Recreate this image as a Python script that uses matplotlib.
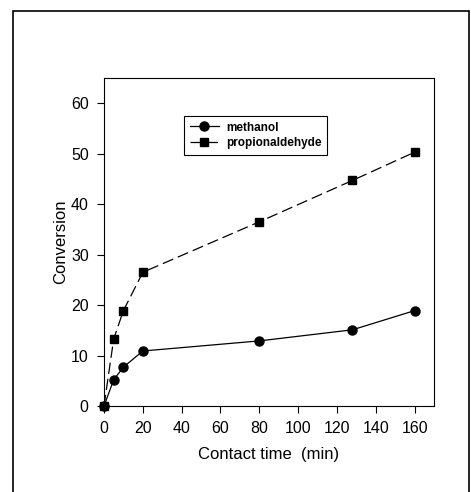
import matplotlib
matplotlib.use("Agg")
import matplotlib.pyplot as plt
from matplotlib.patches import Rectangle

# contact time (min) and conversion
time_min = [0, 5, 10, 20, 80, 128, 160]
methanol = [0, 5.2, 7.7, 10.9, 12.9, 15.1, 18.9]
propionaldehyde = [0, 13.3, 18.9, 26.5, 36.5, 44.7, 50.3]

x_ticks = [0, 20, 40, 60, 80, 100, 120, 140, 160]
y_ticks = [0, 10, 20, 30, 40, 50, 60]

plt.rcParams['font.family'] = ['Liberation Sans', 'DejaVu Sans']

fig = plt.figure(figsize=(4.71, 4.92), dpi=100)
ax = fig.add_axes([104 / 471, 1 - 406 / 492, 330 / 471, 328 / 492])

ax.plot(time_min, methanol, color='black', linestyle='-', linewidth=0.9,
        marker='o', markersize=6.5, label='methanol', clip_on=False, zorder=3)
ax.plot(time_min, propionaldehyde, color='black', linestyle=(0, (9, 4)), linewidth=0.9,
        marker='s', markersize=6, label='propionaldehyde', clip_on=False, zorder=3)

ax.set_xlim(0, 170)
ax.set_ylim(0, 65)
ax.set_xticks(x_ticks)
ax.set_yticks(y_ticks)
ax.tick_params(direction='out', length=5, width=0.8, labelsize=11.5, pad=6)
for s in ax.spines.values():
    s.set_linewidth(0.8)

ax.set_xlabel('Contact time  (min)', fontsize=12, labelpad=8)
ax.set_ylabel('Conversion', fontsize=12, labelpad=2)

leg = ax.legend(loc='upper left', bbox_to_anchor=(0.242, 0.885), borderaxespad=0,
                fancybox=False, edgecolor='black', framealpha=1,
                handlelength=2.45, borderpad=0.5, labelspacing=0.3, handletextpad=0.6,
                prop={'weight': 'bold', 'size': 8.5})
leg.get_frame().set_linewidth(0.8)

# outer frame of the scanned figure
fig.patches.append(Rectangle((13 / 471, -0.01), (469 - 13) / 471, 1 - 11 / 492 + 0.01,
                             transform=fig.transFigure, fill=False,
                             edgecolor='black', linewidth=1.2))

fig.savefig('out.png', dpi=100)
